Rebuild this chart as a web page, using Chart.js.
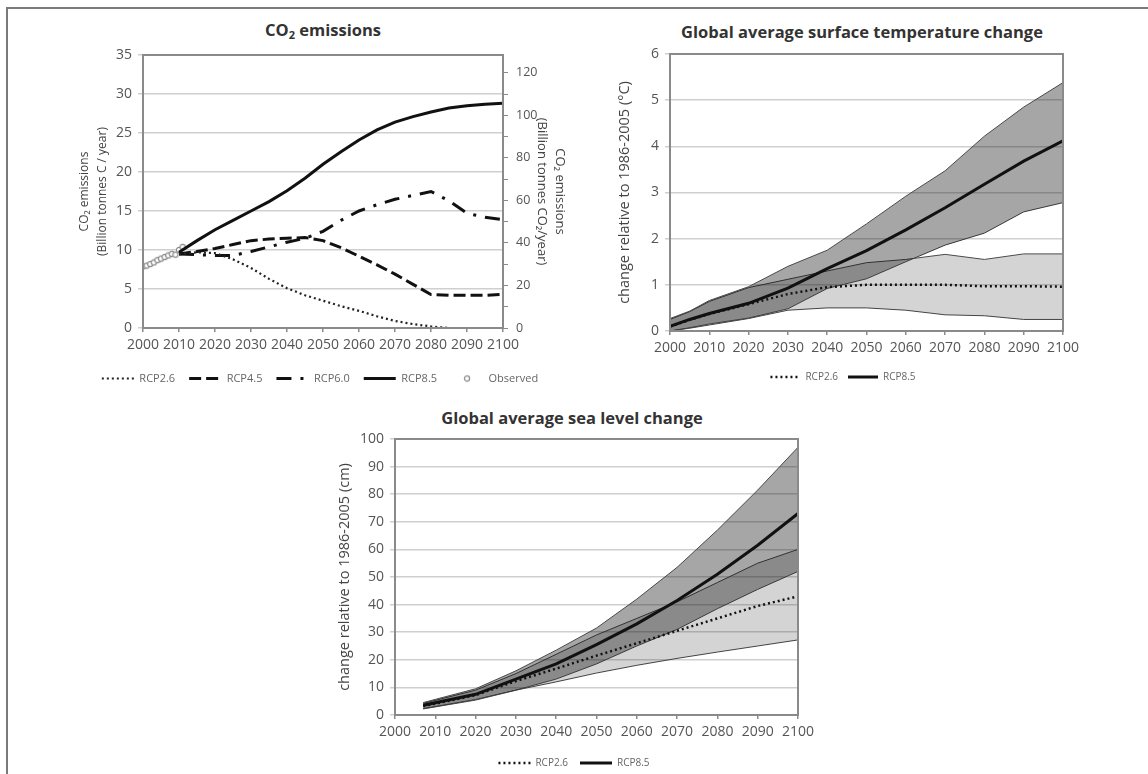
<!DOCTYPE html>
<html>
<head>
<meta charset="utf-8">
<script src="https://cdn.jsdelivr.net/npm/chart.js@4.4.1/dist/chart.umd.min.js"></script>
<style>
  html, body { margin: 0; padding: 0; background: #fff; overflow: hidden; }
  body { width: 1148px; height: 774px; position: relative; font-family: 'Open Sans', sans-serif; }
  #frame { position: absolute; left: 6px; top: 7px; width: 1300px; height: 900px; border: 2px solid #7a7a7a; }
  canvas { position: absolute; }
  .title { position: absolute; transform: translate(-50%, -50%); font-weight: bold; font-size: 16.5px; line-height: 1; color: #333; white-space: nowrap; }
  .title sub { font-size: 11px; vertical-align: -3px; line-height: 0; }
</style>
</head>
<body>
<div id="frame"></div>
<div class="title" style="left:323px; top:30px">CO<sub>2</sub> emissions</div>
<div class="title" style="left:862px; top:32px">Global average surface temperature change</div>
<div class="title" style="left:572px; top:418px">Global average sea level change</div>
<canvas id="co2" width="520" height="384" style="left:60px; top:10px"></canvas>
<canvas id="temp" width="506" height="382" style="left:590px; top:10px"></canvas>
<canvas id="sea" width="568" height="383" style="left:290px; top:395px"></canvas>
<script>
Chart.defaults.font.family = "'Open Sans', sans-serif";
Chart.defaults.color = '#555';

// CO2 emissions (billion tonnes C / year)
const co2Years = [2010, 2015, 2020, 2025, 2030, 2035, 2040, 2045, 2050, 2055, 2060, 2065, 2070, 2075, 2080, 2085, 2090, 2095, 2100];
const rcp26Co2 = [9.5, 9.7, 9.6, 8.8, 7.7, 6.3, 5.1, 4.2, 3.5, 2.8, 2.2, 1.5, 0.9, 0.5, 0.2, 0.0, null, null, null];
const rcp45Co2 = [9.5, 9.8, 10.2, 10.7, 11.2, 11.4, 11.5, 11.6, 11.2, 10.3, 9.2, 8.1, 6.9, 5.6, 4.3, 4.2, 4.2, 4.2, 4.3];
const rcp60Co2 = [9.5, 9.4, 9.3, 9.3, 9.8, 10.4, 11.0, 11.5, 12.4, 13.8, 15.0, 15.8, 16.5, 17.0, 17.5, 16.3, 14.7, 14.2, 13.9];
const rcp85Co2 = [9.7, 11.2, 12.6, 13.8, 15.0, 16.2, 17.6, 19.2, 21.0, 22.6, 24.1, 25.4, 26.4, 27.1, 27.7, 28.2, 28.5, 28.7, 28.8];
const obsYears = [2000, 2001, 2002, 2003, 2004, 2005, 2006, 2007, 2008, 2009, 2010, 2011];
const observedCo2 = [7.9, 8.0, 8.2, 8.4, 8.7, 8.9, 9.1, 9.3, 9.5, 9.4, 10.0, 10.4];
const co2RightTicks = [0, 10, 20, 30, 40, 50, 60, 70, 80, 90, 100, 110, 120];

// surface temperature change (deg C)
const tempYears = [2000, 2005, 2010, 2020, 2030, 2040, 2050, 2060, 2070, 2080, 2090, 2100];
const rcp85TempHigh = [0.27, 0.43, 0.66, 0.96, 1.40, 1.75, 2.32, 2.92, 3.47, 4.22, 4.85, 5.38];
const rcp85Temp = [0.10, 0.25, 0.38, 0.60, 0.93, 1.35, 1.74, 2.19, 2.67, 3.18, 3.68, 4.12];
const rcp85TempLow = [0.0, 0.07, 0.15, 0.28, 0.48, 0.92, 1.13, 1.50, 1.86, 2.12, 2.58, 2.78];
const rcp26TempHigh = [0.25, 0.42, 0.64, 0.94, 1.12, 1.30, 1.48, 1.55, 1.66, 1.55, 1.67, 1.67];
const rcp26Temp = [0.10, 0.24, 0.37, 0.58, 0.80, 0.95, 1.0, 1.0, 1.0, 0.97, 0.97, 0.96];
const rcp26TempLow = [0.0, 0.06, 0.13, 0.27, 0.45, 0.50, 0.50, 0.45, 0.35, 0.33, 0.25, 0.25];

// sea level change (cm)
const seaYears = [2007, 2020, 2030, 2040, 2050, 2060, 2070, 2080, 2090, 2100];
const rcp85SeaHigh = [4.5, 9.5, 16.0, 23.5, 31.5, 42.0, 53.5, 67.0, 81.5, 97.0];
const rcp85Sea = [3.5, 7.5, 13.0, 18.5, 25.5, 33.0, 41.5, 51.0, 61.5, 73.0];
const rcp85SeaLow = [2.3, 5.6, 9.0, 13.0, 18.5, 25.0, 31.0, 38.5, 45.5, 52.0];
const rcp26SeaHigh = [4.2, 9.0, 15.0, 22.0, 29.0, 35.0, 41.0, 48.0, 55.0, 60.0];
const rcp26Sea = [3.2, 7.2, 12.3, 16.8, 21.5, 26.0, 30.5, 35.0, 39.5, 43.0];
const rcp26SeaLow = [2.2, 5.4, 9.0, 12.0, 15.2, 18.0, 20.5, 22.8, 25.0, 27.2];

const toPoints = (xs, ys) => xs.map((x, i) => ({ x: x, y: ys[i] }));

// little open circle used for the observed points and its legend entry
const obsDot = document.createElement('canvas');
obsDot.width = 8; obsDot.height = 8;
(function () {
  const c = obsDot.getContext('2d');
  c.fillStyle = '#fff';
  c.strokeStyle = '#8a8a8a';
  c.lineWidth = 1.2;
  c.beginPath();
  c.arc(4, 4, 2.6, 0, Math.PI * 2);
  c.fill();
  c.stroke();
})();

// box round the plot area
const framePlugin = {
  id: 'frame',
  afterDatasetsDraw(chart) {
    const a = chart.chartArea;
    const ctx = chart.ctx;
    ctx.save();
    ctx.strokeStyle = '#8a8a8a';
    ctx.lineWidth = 2;
    ctx.strokeRect(a.left, a.top, a.right - a.left, a.bottom - a.top);
    ctx.restore();
  }
};

function yearAxis() {
  return {
    type: 'linear', min: 2000, max: 2100,
    ticks: { stepSize: 10, padding: 5, color: '#555', font: { size: 14 }, maxRotation: 0, autoSkip: false, callback: v => String(v) },
    grid: { drawOnChartArea: false, tickLength: 4, color: '#8a8a8a', lineWidth: 1.5 },
    border: { display: false },
    afterFit(s) { s.height = 31; }
  };
}

function valueAxis(max, step, width, title, titleSize, titlePad) {
  return {
    position: 'left', min: 0, max: max,
    ticks: { stepSize: step, padding: 6, color: '#555', font: { size: 14 } },
    grid: { color: '#cfcfcf', lineWidth: 1.5, tickLength: 5 },
    border: { display: false },
    title: { display: true, text: title, color: '#444', font: { size: titleSize, lineHeight: 1.5 }, padding: { top: titlePad, bottom: 0 } },
    afterFit(s) { s.width = width; }
  };
}

function spacer(width) {
  return {
    position: 'right', display: true,
    ticks: { display: false }, grid: { display: false }, border: { display: false },
    afterFit(s) { s.width = width; }
  };
}

// legend entries keep the dash pattern of their line
function dashedLabels(chart) {
  const items = Chart.defaults.plugins.legend.labels.generateLabels(chart);
  items.forEach(item => {
    const ds = chart.data.datasets[item.datasetIndex];
    item.lineDash = ds.borderDash || [];
    item.lineWidth = ds.borderWidth;
  });
  return items;
}

function legend(size, boxW, pad, filter) {
  return {
    position: 'bottom',
    labels: { usePointStyle: true, pointStyleWidth: boxW, color: '#666', font: { size: size }, padding: pad, filter: filter, generateLabels: dashedLabels }
  };
}

const base = {
  responsive: false, animation: false, devicePixelRatio: 1,
  elements: { point: { radius: 0 }, line: { tension: 0, fill: false } }
};

new Chart(document.getElementById('co2'), {
  type: 'line',
  data: {
    datasets: [
      { label: 'RCP2.6', data: toPoints(co2Years, rcp26Co2), borderColor: '#222', borderWidth: 2.2, borderDash: [2, 3], pointStyle: 'line' },
      { label: 'RCP4.5', data: toPoints(co2Years, rcp45Co2), borderColor: '#111', borderWidth: 3, borderDash: [12, 5], pointStyle: 'line' },
      { label: 'RCP6.0', data: toPoints(co2Years, rcp60Co2), borderColor: '#111', borderWidth: 3, borderDash: [15, 9, 3, 9], pointStyle: 'line' },
      { label: 'RCP8.5', data: toPoints(co2Years, rcp85Co2), borderColor: '#111', borderWidth: 3, pointStyle: 'line' },
      { label: 'Observed', data: toPoints(obsYears, observedCo2), showLine: false, pointRadius: 3, pointStyle: obsDot, borderColor: '#8a8a8a', borderWidth: 1 }
    ]
  },
  options: Object.assign({}, base, {
    layout: { padding: { top: 45, left: 0, right: 0, bottom: 0 } },
    plugins: { legend: legend(11, 32, 14), tooltip: { enabled: false } },
    scales: {
      x: yearAxis(),
      y: valueAxis(35, 5, 83, ['CO₂ emissions', '(Billion tonnes C / year)'], 12, 16),
      y2: {
        position: 'right', min: 0, max: 35 * 44 / 12,
        afterBuildTicks(s) { s.ticks = co2RightTicks.map(v => ({ value: v })); },
        ticks: { padding: 8, color: '#555', font: { size: 12.5 }, callback: v => (v % 20 === 0 ? v : '') },
        grid: { drawOnChartArea: false, tickLength: 5, color: '#8a8a8a' },
        border: { display: false },
        title: { display: true, text: ['CO₂ emissions', '(Billion tonnes CO₂/year)'], color: '#444', font: { size: 13, lineHeight: 1.4 }, padding: { top: 11, bottom: 0 } },
        afterFit(s) { s.width = 77; }
      }
    }
  }),
  plugins: [framePlugin]
});

function bandSets(p26, p85, hi85, lo85, hi26, lo26) {
  return [
    { label: 'RCP2.6', data: p26, borderColor: '#111', borderWidth: 2.5, borderDash: [2, 3], pointStyle: 'line' },
    { label: 'RCP8.5', data: p85, borderColor: '#111', borderWidth: 3, pointStyle: 'line' },
    { label: 'RCP8.5 range', data: hi85, borderColor: '#4a4a4a', borderWidth: 1, fill: 3, backgroundColor: 'rgba(0,0,0,0.35)' },
    { label: 'RCP8.5 low', data: lo85, borderColor: '#4a4a4a', borderWidth: 1 },
    { label: 'RCP2.6 range', data: hi26, borderColor: '#4a4a4a', borderWidth: 1, fill: 5, backgroundColor: 'rgba(0,0,0,0.17)' },
    { label: 'RCP2.6 low', data: lo26, borderColor: '#4a4a4a', borderWidth: 1 }
  ];
}

const onlyMeans = item => item.datasetIndex < 2;

new Chart(document.getElementById('temp'), {
  type: 'line',
  data: {
    datasets: bandSets(
      toPoints(tempYears, rcp26Temp), toPoints(tempYears, rcp85Temp),
      toPoints(tempYears, rcp85TempHigh), toPoints(tempYears, rcp85TempLow),
      toPoints(tempYears, rcp26TempHigh), toPoints(tempYears, rcp26TempLow))
  },
  options: Object.assign({}, base, {
    layout: { padding: { top: 44, left: 0, right: 0, bottom: 0 } },
    plugins: { legend: legend(10, 30, 10, onlyMeans), tooltip: { enabled: false } },
    scales: {
      x: yearAxis(),
      y: valueAxis(6, 1, 80, 'change relative to 1986-2005 (°C)', 14.5, 24),
      y2: spacer(33)
    }
  }),
  plugins: [framePlugin]
});

new Chart(document.getElementById('sea'), {
  type: 'line',
  data: {
    datasets: bandSets(
      toPoints(seaYears, rcp26Sea), toPoints(seaYears, rcp85Sea),
      toPoints(seaYears, rcp85SeaHigh), toPoints(seaYears, rcp85SeaLow),
      toPoints(seaYears, rcp26SeaHigh), toPoints(seaYears, rcp26SeaLow))
  },
  options: Object.assign({}, base, {
    layout: { padding: { top: 44, left: 0, right: 0, bottom: 0 } },
    plugins: { legend: legend(10, 32, 12, onlyMeans), tooltip: { enabled: false } },
    scales: {
      x: yearAxis(),
      y: valueAxis(100, 10, 105, 'change relative to 1986-2005 (cm)', 14.5, 44),
      y2: spacer(60)
    }
  }),
  plugins: [framePlugin]
});
</script>
</body>
</html>
